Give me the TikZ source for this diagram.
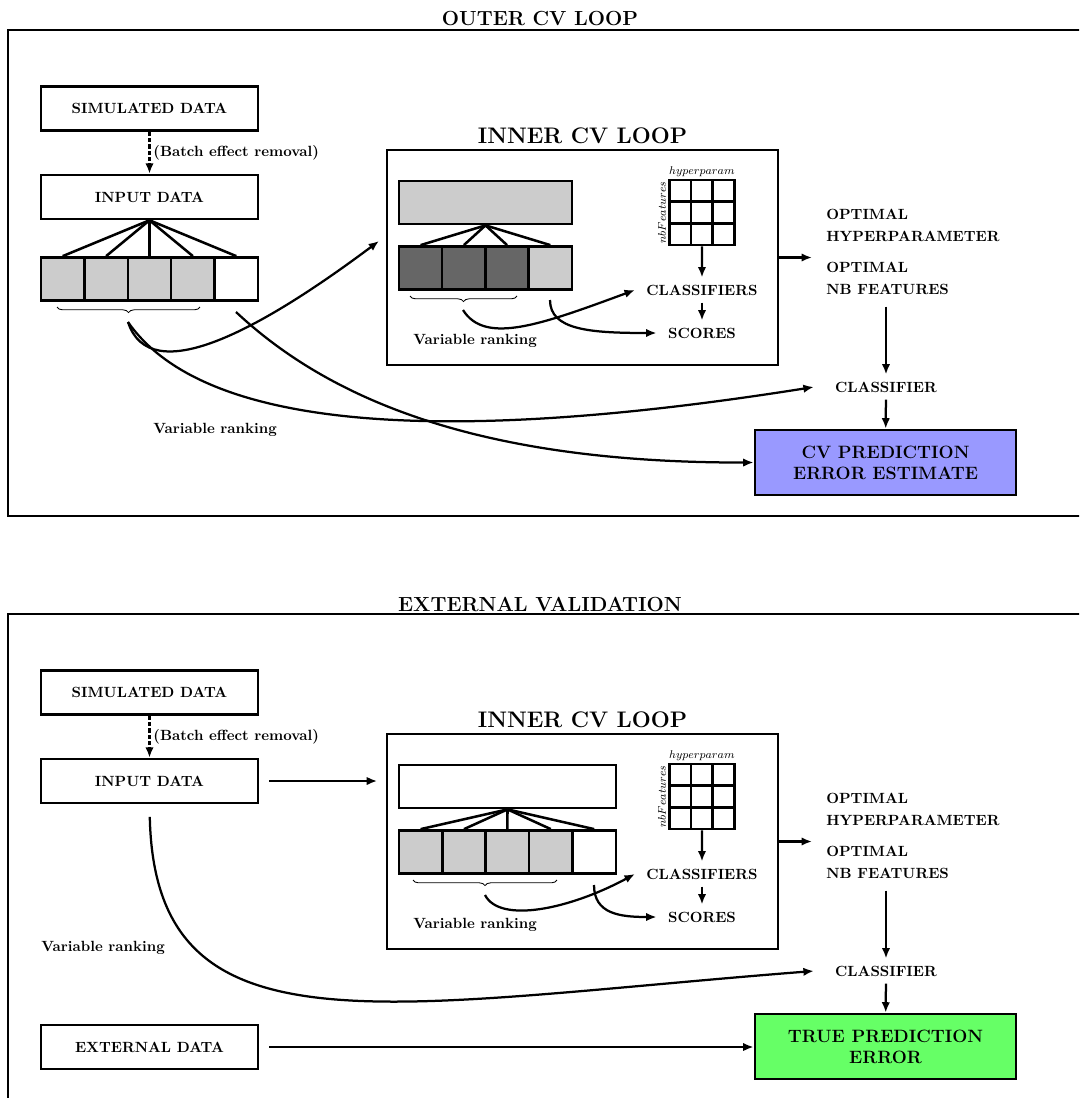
\documentclass[tikz,border=0pt]{standalone}
\usepackage{fontspec}
\usetikzlibrary{arrows.meta,positioning,decorations.pathreplacing}

\begin{document}
\begin{tikzpicture}[x=0.025cm,y=-0.025cm,
  font=\fontsize{10.5}{15.6}\selectfont\bfseries,
  loopframe/.style={draw,line width=1.8pt},
  box/.style={draw,line width=1.8pt,minimum width=5.43cm,minimum height=1.1cm,inner sep=0pt},
  cell/.style={draw,line width=1.8pt,minimum width=1.085cm,minimum height=1.08cm,inner sep=0pt},
  gcell/.style={draw,line width=1.8pt,minimum size=0.54cm,inner sep=0pt},
  res/.style={draw,line width=1.8pt,minimum width=6.53cm,minimum height=1.63cm,align=center,font=\fontsize{12.7}{15}\selectfont\bfseries},
  txt/.style={inner xsep=8pt,inner ysep=5pt},
  title/.style={font=\fontsize{14.5}{17}\selectfont\bfseries},
  ititle/.style={font=\fontsize{16}{19}\selectfont\bfseries,inner sep=3pt},
  lab/.style={font=\fontsize{8}{10}\selectfont,inner sep=1.5pt},
  arr/.style={-{Latex[length=2.6mm,width=2.1mm]},line width=1.6pt},
  link/.style={line width=1.8pt},
  brc/.style={decorate,decoration={brace,mirror,amplitude=4pt},line width=0.6pt}]
\useasboundingbox (0,0) rectangle (1079,1098);
\clip (0,0) rectangle (1079,1098);

% ---------- outer cv loop ----------
\node[title] (outt) at (540,19) {OUTER CV LOOP};
\draw[loopframe] (8,30) rectangle (1100,516);
\node[box] (sim) at (149.5,108.5) {SIMULATED DATA};
\node[box] (inp) at (149.5,197) {INPUT DATA};
\draw[arr,dash pattern=on 3pt off 1.5pt] (sim) -- (inp) node[midway,right,inner sep=2pt] {(Batch effect removal)};
\foreach \i/\f in {1/black!20,2/black!20,3/black!20,4/black!20,5/white}
  \node[cell,fill=\f] (c\i) at ({62.7+43.4*(\i-1)},279) {};
\foreach \i in {1,...,5} \draw[link] (inp.south) -- (c\i.north);
\draw[brc] (57,307) -- (200,307);
\coordinate (rk1) at (128,322);
\coordinate (rk2) at (236,312);
\coordinate (into) at (379,241);
\node (vr1) at (215,430) {Variable ranking};

% inner loop
\node[draw,line width=1.8pt,minimum width=9.78cm,minimum height=5.38cm] (inner) at (582.5,257.5) {};
\node[ititle,above=0pt of inner] {INNER CV LOOP};
\node[cell,fill=black!20,minimum width=4.33cm] (tbar) at (485.5,202.5) {};
\foreach \i/\f in {1/black!60,2/black!60,3/black!60,4/black!20}
  \node[cell,fill=\f] (d\i) at ({420.6+43.25*(\i-1)},268) {};
\foreach \i in {1,...,4} \draw[link] (tbar.south) -- (d\i.north);
\draw[brc] (410,296) -- (517,296);
\coordinate (rk3) at (463,310);
\coordinate (rk4) at (550,300);
\node (vr2) at (475,341) {Variable ranking};
\foreach \r in {1,2,3}
  \foreach \c in {1,2,3}
    \node[gcell] (g\r\c) at ({658.5+21.7*\c},{169.2+21.7*\r}) {};
\node[lab,anchor=south] at (g12.north) {$hyperparam$};
\node[lab,rotate=90,anchor=south] at (g21.west) {$nbFeatures$};
\node[txt] (cls) at (702,290) {CLASSIFIERS};
\node[txt] (scr) at (702,333) {SCORES};
\draw[arr] (g32.south) -- (cls.north);
\draw[arr] (cls) -- (scr);
\draw[arr] (rk3) .. controls (485,345) and (540,325) .. (cls.west);
\draw[arr] (rk4) .. controls (550,330) and (590,333) .. (scr.west);

% results
\node[txt,align=left,anchor=west,inner xsep=10pt,inner ysep=8pt] (opt) at (812,252) {OPTIMAL\\HYPERPARAMETER\\[7pt]OPTIMAL\\NB FEATURES};
\draw[arr] (inner.east) -- (inner.east -| opt.west);
\node[txt,inner xsep=15pt] (clf) at (886,387) {CLASSIFIER};
\node[res,fill=blue!40] (cvb) at (885.5,462.5) {CV PREDICTION\\ERROR ESTIMATE};
\draw[arr] (clf.north |- opt.south) -- (clf.north);
\draw[arr] (clf) -- (cvb);
\draw[arr] (rk1) .. controls (150,390) and (260,330) .. (into);
\draw[arr] (rk1) .. controls (210,440) and (480,440) .. (clf.west);
\draw[arr] (rk2) .. controls (330,400) and (480,463) .. (cvb.west);

% ---------- external validation ----------
\begin{scope}[shift={(0,584)}]
\node[title] (extt) at (540,20) {EXTERNAL VALIDATION};
\draw[loopframe] (8,30) rectangle (1100,540);
\node[box] (bsim) at (149.5,108.5) {SIMULATED DATA};
\node[box] (binp) at (149.5,197) {INPUT DATA};
\draw[arr,dash pattern=on 3pt off 1.5pt] (bsim) -- (binp) node[midway,right,inner sep=2pt] {(Batch effect removal)};
\node (vr3) at (103,364) {Variable ranking};
\node[box] (ext) at (149.5,463) {EXTERNAL DATA};

% inner loop
\node[draw,line width=1.8pt,minimum width=9.78cm,minimum height=5.38cm] (binner) at (582.5,257.5) {};
\node[ititle,above=0pt of binner] {INNER CV LOOP};
\node[cell,fill=white,minimum width=5.42cm] (bbar) at (507.5,202.5) {};
\foreach \i/\f in {1/black!20,2/black!20,3/black!20,4/black!20,5/white}
  \node[cell,fill=\f] (e\i) at ({420.6+43.4*(\i-1)},268) {};
\foreach \i in {1,...,5} \draw[link] (bbar.south) -- (e\i.north);
\draw[brc] (413,296) -- (557,296);
\coordinate (rk5) at (485,311);
\coordinate (rk6) at (594,301);
\node (vr4) at (475,341) {Variable ranking};
\foreach \r in {1,2,3}
  \foreach \c in {1,2,3}
    \node[gcell] (h\r\c) at ({658.5+21.7*\c},{169.2+21.7*\r}) {};
\node[lab,anchor=south] at (h12.north) {$hyperparam$};
\node[lab,rotate=90,anchor=south] at (h21.west) {$nbFeatures$};
\node[txt] (bcls) at (702,290) {CLASSIFIERS};
\node[txt] (bscr) at (702,333) {SCORES};
\draw[arr] (h32.south) -- (bcls.north);
\draw[arr] (bcls) -- (bscr);
\draw[arr] (rk5) .. controls (500,340) and (570,325) .. (bcls.west);
\draw[arr] (rk6) .. controls (594,330) and (620,333) .. (bscr.west);

% results
\node[txt,align=left,anchor=west,inner xsep=10pt,inner ysep=8pt] (bopt) at (812,252) {OPTIMAL\\HYPERPARAMETER\\[7pt]OPTIMAL\\NB FEATURES};
\draw[arr] (binner.east) -- (binner.east -| bopt.west);
\node[txt,inner xsep=15pt] (bclf) at (886,387) {CLASSIFIER};
\node[res,fill=green!60] (tbox) at (885.5,462.5) {TRUE PREDICTION\\ERROR};
\draw[arr] (bclf.north |- bopt.south) -- (bclf.north);
\draw[arr] (bclf) -- (tbox);
\draw[arr,shorten <=7pt,shorten >=6pt] (binp.east) -- (binp.east -| binner.west);
\draw[arr,shorten <=9pt] (binp.south) .. controls (155,476) and (380,421) .. (bclf.west);
\draw[arr,shorten <=7pt] (ext.east) -- (ext.east -| tbox.west);
\end{scope}
\end{tikzpicture}
\end{document}
